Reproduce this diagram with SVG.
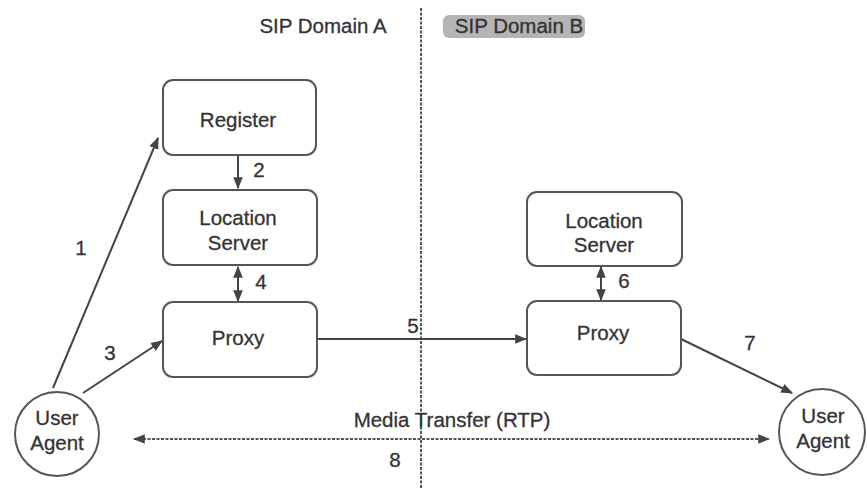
<svg xmlns="http://www.w3.org/2000/svg" width="867" height="488" viewBox="0 0 867 488">
  <style>
    .box { fill: none; stroke: #555; stroke-width: 2; }
    .ua { fill: none; stroke: #555; stroke-width: 2; }
    .lbl { font-family: "Liberation Sans", Arial, sans-serif; font-size: 20.5px; fill: #333; text-anchor: middle; stroke: #333; stroke-width: 0.3; }
    .num { font-family: "Liberation Sans", Arial, sans-serif; font-size: 20.5px; fill: #333; text-anchor: middle; stroke: #333; stroke-width: 0.3; }
    .edge { stroke: #444; stroke-width: 2; fill: none; }
    .dash { stroke: #555; stroke-width: 2; fill: none; stroke-dasharray: 3 1.5; }
  </style>
  <defs>
    <marker id="head" viewBox="0 0 10 10" refX="9" refY="5" markerWidth="6" markerHeight="6" orient="auto-start-reverse" markerUnits="strokeWidth">
      <path d="M0,1 L10,5 L0,9 Z" fill="#444"/>
    </marker>
  </defs>
  <rect width="867" height="488" fill="#ffffff"/>

  <!-- domain headings and divider -->
  <g id="domains">
    <text class="lbl" x="323" y="33">SIP Domain A</text>
    <rect x="443" y="15" width="142" height="23" rx="6" fill="#b4b4b4"/>
    <text class="lbl" x="519" y="33">SIP Domain B</text>
    <line class="dash" x1="421" y1="8" x2="421" y2="488"/>
  </g>

  <!-- connectors -->
  <g id="connectors">
    <line class="edge" x1="53" y1="388" x2="158" y2="138" marker-end="url(#head)"/>
    <line class="edge" x1="238" y1="156" x2="238" y2="188" marker-end="url(#head)"/>
    <line class="edge" x1="83" y1="393" x2="162" y2="341" marker-end="url(#head)"/>
    <line class="edge" x1="238" y1="267" x2="238" y2="301" marker-start="url(#head)" marker-end="url(#head)"/>
    <line class="edge" x1="317" y1="339" x2="526" y2="339" marker-end="url(#head)"/>
    <line class="edge" x1="601" y1="267" x2="601" y2="300" marker-start="url(#head)" marker-end="url(#head)"/>
    <line class="edge" x1="681" y1="339" x2="792" y2="393" marker-end="url(#head)"/>
    <line class="dash" x1="134" y1="439" x2="769" y2="439" marker-start="url(#head)" marker-end="url(#head)"/>
  </g>

  <!-- connector labels -->
  <g id="edge-labels">
    <text class="num" x="81" y="255">1</text>
    <text class="num" x="259" y="177">2</text>
    <text class="num" x="110" y="360">3</text>
    <text class="num" x="261" y="289">4</text>
    <text class="num" x="413" y="333">5</text>
    <text class="num" x="624" y="288">6</text>
    <text class="num" x="750" y="350">7</text>
    <text class="lbl" x="452" y="427">Media Transfer (RTP)</text>
    <text class="num" x="395" y="467">8</text>
  </g>

  <g id="register">
    <rect class="box" x="163" y="80" width="153" height="75" rx="10"/>
    <text class="lbl" x="238" y="127">Register</text>
  </g>

  <g id="location-a">
    <rect class="box" x="163" y="190" width="154" height="75" rx="10"/>
    <text class="lbl" x="238" y="225">Location</text>
    <text class="lbl" x="238" y="250">Server</text>
  </g>

  <g id="proxy-a">
    <rect class="box" x="163" y="302" width="154" height="75" rx="10"/>
    <text class="lbl" x="238" y="345">Proxy</text>
  </g>

  <g id="location-b">
    <rect class="box" x="527" y="192" width="155" height="74" rx="10"/>
    <text class="lbl" x="604" y="228">Location</text>
    <text class="lbl" x="604" y="252">Server</text>
  </g>

  <g id="proxy-b">
    <rect class="box" x="527" y="301" width="154" height="74" rx="10"/>
    <text class="lbl" x="603" y="340">Proxy</text>
  </g>

  <g id="user-agent-a">
    <circle class="ua" cx="57" cy="434" r="42"/>
    <text class="lbl" x="57" y="425">User</text>
    <text class="lbl" x="57" y="450">Agent</text>
  </g>

  <g id="user-agent-b">
    <circle class="ua" cx="822" cy="432" r="43"/>
    <text class="lbl" x="823" y="423">User</text>
    <text class="lbl" x="823" y="448">Agent</text>
  </g>
</svg>
